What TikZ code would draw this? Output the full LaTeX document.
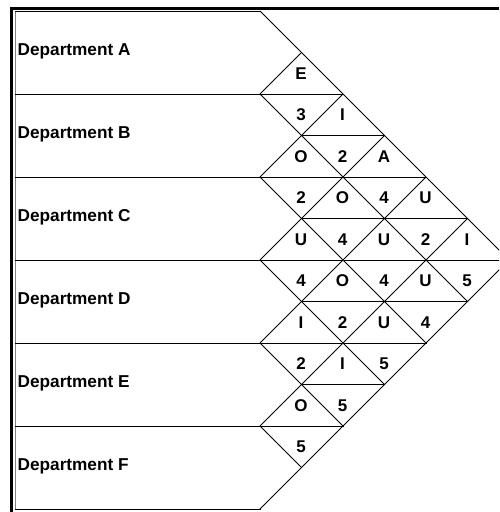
\documentclass[tikz,border=0pt]{standalone}
\usepackage{fontspec}
\setmainfont{Liberation Sans}
\usetikzlibrary{positioning}
\tikzset{
  dept/.style={anchor=west,inner sep=0pt,font=\fontsize{17.2}{19}\selectfont\bfseries},
  rel/.style={inner sep=0pt,font=\fontsize{17}{19}\selectfont\bfseries},
  grid line/.style={line width=0.8pt,black}
}

\begin{document}
\begin{tikzpicture}[x=1pt,y=-1pt]
  \useasboundingbox (0,0) rectangle (499,512);
  \clip (0,0) rectangle (499,512);
  % outer frame
  \draw[line width=2.4pt] (11.5,512) -- (11.5,8.6) -- (499,8.6);
  \draw[gray,line width=1pt] (15,11) -- (15,509.5);
  % row borders, carried on into the chart
  \foreach \k in {0,...,6} {
    \pgfmathsetmacro{\yk}{11+83*\k}
    \pgfmathsetmacro{\xr}{\yk<=260 ? 249+\yk : 769.5-\yk}
    \draw[grid line] (15,\yk) -- (\xr,\yk); }
  % half-row lines between the diamonds
  \foreach \k in {1,...,4} {
    \pgfmathsetmacro{\ym}{52.5+83*\k}
    \pgfmathsetmacro{\xr}{\ym<=260 ? 249+\ym : 769.5-\ym}
    \draw[grid line] (301.5,\ym) -- (\xr,\ym); }
  % diagonals from each row corner
  \foreach \k in {0,...,6} {
    \pgfmathsetmacro{\yk}{11+83*\k}
    \pgfmathsetmacro{\dd}{(509.5-\yk)/2}
    \pgfmathsetmacro{\du}{(\yk-11)/2}
    \ifnum\k<6 \draw[grid line] (260,\yk) -- ++(\dd,\dd); \fi
    \ifnum\k>0 \draw[grid line] (260,\yk) -- ++(\du,-\du); \fi }
  % department names
  \foreach \d [count=\k from 0] in {A,B,C,D,E,F}
    \node[dept] (dept\d) at (17.5,51.5+83*\k) {Department \d};
  % closeness codes (upper half) and reasons (lower half)
  \foreach \i/\j/\c/\n in {0/1/E/3,0/2/I/2,0/3/A/4,0/4/U/2,0/5/I/5,
      1/2/O/2,1/3/O/4,1/4/U/4,1/5/U/4,2/3/U/4,2/4/O/2,2/5/U/5,
      3/4/I/2,3/5/I/5,4/5/O/5} {
    \node[rel] (code\i\j) at (259.5+41.5*\j-41.5*\i,11+41.5*\i+41.5*\j+41.5-20.75) {\c};
    \node[rel] (why\i\j) at (259.5+41.5*\j-41.5*\i,11+41.5*\i+41.5*\j+41.5+20.75) {\n}; }
\end{tikzpicture}
\end{document}
